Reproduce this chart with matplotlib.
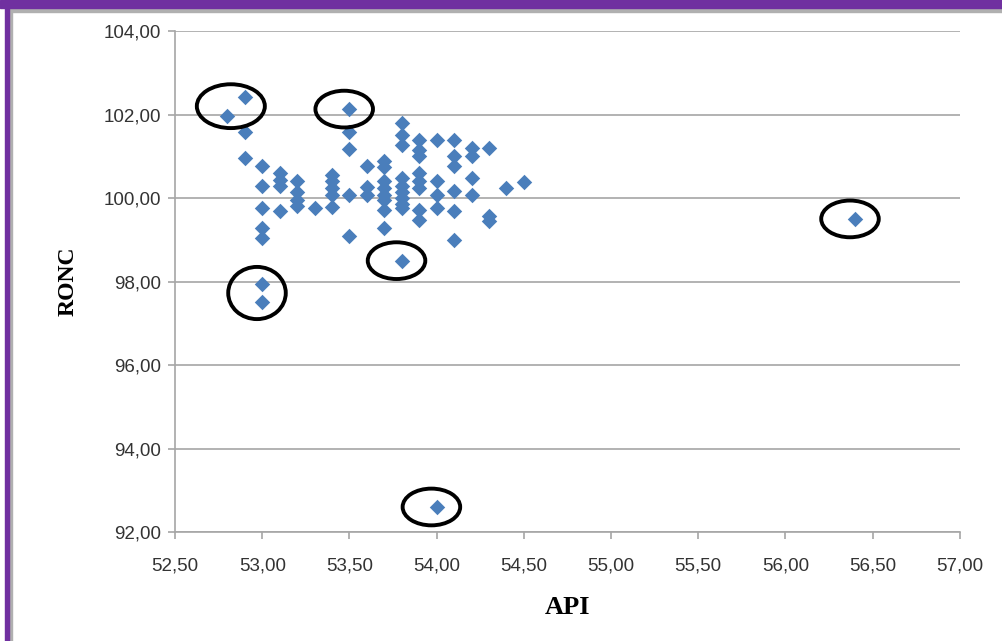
import matplotlib
matplotlib.use("Agg")
import matplotlib.pyplot as plt
from matplotlib.patches import Ellipse, Rectangle
from matplotlib.ticker import FuncFormatter, MultipleLocator

# API / RONC values
api = [52.8, 52.9, 52.9, 52.9,
       53.0, 53.0, 53.0, 53.0, 53.0, 53.0, 53.0,
       53.1, 53.1, 53.1, 53.1,
       53.2, 53.2, 53.2, 53.2,
       53.3,
       53.4, 53.4, 53.4, 53.4, 53.4,
       53.5, 53.5, 53.5, 53.5, 53.5,
       53.6, 53.6, 53.6,
       53.7, 53.7, 53.7, 53.7, 53.7, 53.7, 53.7, 53.7,
       53.8, 53.8, 53.8, 53.8, 53.8, 53.8, 53.8, 53.8, 53.8, 53.8,
       53.9, 53.9, 53.9, 53.9, 53.9, 53.9, 53.9, 53.9,
       54.0, 54.0, 54.0, 54.0, 54.0,
       54.1, 54.1, 54.1, 54.1, 54.1, 54.1,
       54.2, 54.2, 54.2, 54.2,
       54.3, 54.3, 54.3,
       54.4, 54.5, 56.4]
ronc = [101.97, 102.43, 101.57, 100.97,
        100.77, 100.28, 99.77, 99.28, 99.04, 97.95, 97.5,
        100.6, 100.43, 100.28, 99.68,
        100.4, 100.15, 99.96, 99.8,
        99.76,
        100.55, 100.4, 100.25, 100.08, 99.78,
        102.13, 101.57, 101.18, 100.08, 99.09,
        100.77, 100.27, 100.08,
        100.88, 100.75, 100.4, 100.25, 100.08, 99.96, 99.72, 99.28,
        101.8, 101.5, 101.27, 100.48, 100.3, 100.15, 100.0, 99.85, 99.75, 98.5,
        101.4, 101.15, 101.0, 100.6, 100.4, 100.25, 99.72, 99.47,
        101.4, 100.4, 100.08, 99.76, 92.6,
        101.38, 101.0, 100.77, 100.18, 99.7, 99.0,
        101.2, 101.0, 100.48, 100.08,
        101.2, 99.57, 99.45,
        100.23, 100.38, 99.5]

# points circled in the reference (indices into api/ronc)
circled = [[0, 1], [25], [9, 10], [50], [63], [79]]

fmt = FuncFormatter(lambda v, p: f"{v:.2f}".replace(".", ","))

fig = plt.figure(figsize=(10.03, 6.41), dpi=100)
ax = fig.add_axes([0.1745, 0.170, 0.7825, 0.7816])

ax.scatter(api, ronc, marker="D", s=62, color="#4A7EBB", zorder=3, linewidths=0)

for grp in circled:
    cx = sum(api[i] for i in grp) / len(grp)
    cy = sum(ronc[i] for i in grp) / len(grp)
    if len(grp) == 2 and grp[0] == 0:
        w, h = 0.39, 1.05
    elif len(grp) == 2:
        w, h = 0.33, 1.25
    else:
        w, h = 0.33, 0.88
    ax.add_patch(Ellipse((cx - 0.03, cy), w, h, fill=False, edgecolor="black",
                         linewidth=2.8, zorder=4))

ax.set_xlim(52.5, 57.0)
ax.set_ylim(92.0, 104.0)
ax.xaxis.set_major_locator(MultipleLocator(0.5))
ax.yaxis.set_major_locator(MultipleLocator(2.0))
ax.xaxis.set_major_formatter(fmt)
ax.yaxis.set_major_formatter(fmt)
ax.grid(axis="y", color="#A6A6A6", linewidth=1.2, zorder=0)
ax.set_axisbelow(True)

for side in ["top", "right"]:
    ax.spines[side].set_visible(False)
for side in ["left", "bottom"]:
    ax.spines[side].set_color("#A6A6A6")
    ax.spines[side].set_linewidth(1.2)
ax.tick_params(direction="out", length=5, color="#A6A6A6", width=1.2,
               labelsize=13.5, labelcolor="#333333", pad=5)
for lab in ax.get_xticklabels() + ax.get_yticklabels():
    lab.set_family(["Liberation Sans", "DejaVu Sans"])
ax.tick_params(axis="x", pad=13)

ax.set_xlabel("API", fontsize=19, fontweight="bold", family="Liberation Serif", labelpad=16)
ax.set_ylabel("RONC", fontsize=17, fontweight="bold", family="Liberation Serif", labelpad=18)

# purple frame and shadow from the source document
fig.patches.append(Rectangle((0, 0.987), 1, 0.013, transform=fig.transFigure,
                             color="#7030A0", zorder=10))
fig.patches.append(Rectangle((0.005, 0), 0.004, 1, transform=fig.transFigure,
                             color="#7030A0", zorder=10))
fig.patches.append(Rectangle((0.009, 0.982), 0.991, 0.005, transform=fig.transFigure,
                             color="#B0B0B0", zorder=9))
fig.patches.append(Rectangle((0.009, 0), 0.003, 0.987, transform=fig.transFigure,
                             color="#B0B0B0", zorder=9))

fig.savefig("out.png", dpi=100)
